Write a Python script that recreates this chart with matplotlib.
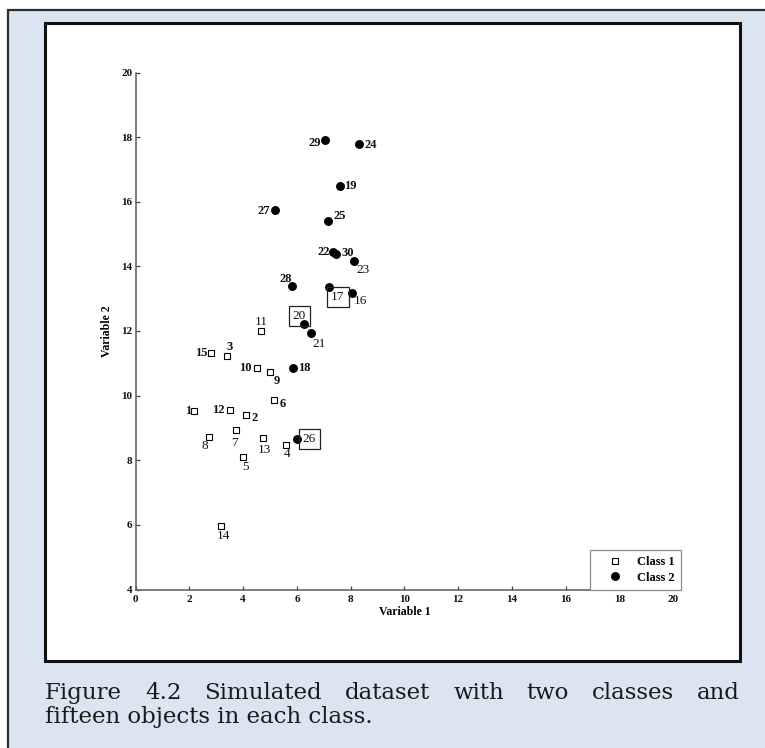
import matplotlib
matplotlib.use("Agg")
import matplotlib.pyplot as plt
from matplotlib.patches import Rectangle

# class 1 (open squares), objects 1-15
c1_id = [1, 2, 3, 4, 5, 6, 7, 8, 9, 10, 11, 12, 13, 14, 15]
c1_x = [2.17, 4.11, 3.39, 5.60, 4.00, 5.13, 3.72, 2.71, 4.99, 4.50, 4.67, 3.51, 4.73, 3.18, 2.81]
c1_y = [9.53, 9.41, 11.24, 8.47, 8.11, 9.85, 8.94, 8.73, 10.72, 10.84, 11.99, 9.54, 8.69, 5.96, 11.33]

# class 2 (filled circles), objects 16-30
c2_id = [16, 17, 18, 19, 20, 21, 22, 23, 24, 25, 26, 27, 28, 29, 30]
c2_x = [8.04, 7.19, 5.87, 7.62, 6.28, 6.51, 7.35, 8.12, 8.33, 7.16, 6.01, 5.19, 5.81, 7.06, 7.47]
c2_y = [13.17, 13.36, 10.84, 16.49, 12.23, 11.95, 14.46, 14.16, 17.78, 15.40, 8.66, 15.73, 13.40, 17.92, 14.38]

boxed = [17, 20, 26]

x_ticks = list(range(0, 21, 2))
y_ticks = list(range(4, 21, 2))

caption1 = "Figure 4.2 Simulated dataset with two classes and"
caption2 = "fifteen objects in each class."

# label offsets in pixels (dx, dy) from each marker
label_offsets = {
    1: (-6, 0), 2: (9, -3), 3: (3, 9), 4: (1, -9), 5: (2, -10),
    6: (9, -4), 7: (-1, -13), 8: (-4, -9), 9: (7, -9), 10: (-11, 0),
    11: (0, 9), 12: (-12, 0), 13: (2, -12), 14: (2, -10), 15: (-10, 0),
    16: (9, -8), 17: (9, -10), 18: (11, 0), 19: (10, 0), 20: (-5, 8),
    21: (9, -11), 22: (-9, 0), 23: (9, -9), 24: (11, -1), 25: (12, 5),
    26: (12, 0), 27: (-11, -1), 28: (-6, 7), 29: (-11, -3), 30: (11, 1),
}
light_labels = [4, 5, 7, 8, 11, 13, 14, 16, 21, 23]

W, H = 765, 748
fig = plt.figure(figsize=(W / 100, H / 100), dpi=100)
fig.patch.set_facecolor("white")

def px_rect(x0, y0, x1, y1, **kw):
    # rectangle given in pixel coordinates measured from the top-left corner
    return Rectangle((x0 / W, 1 - y1 / H), (x1 - x0) / W, (y1 - y0) / H,
                     transform=fig.transFigure, **kw)

fig.patches.append(px_rect(8, 10, 775, 760, facecolor="#dbe5f1",
                           edgecolor="#2b2b2b", linewidth=1.6, zorder=0))
fig.patches.append(px_rect(45, 23, 740, 661, facecolor="white",
                           edgecolor="#111111", linewidth=2.2, zorder=1))

ax = fig.add_axes([135.7 / W, 1 - 589.5 / H, (673 - 135.7) / W, (589.5 - 72.5) / H])
ax.set_facecolor("none")
ax.set_zorder(2)

serif = ["Liberation Serif", "DejaVu Serif"]

ax.plot(c1_x, c1_y, ls="none", marker="s", ms=4.6, mfc="white", mec="black",
        mew=0.8, label="Class 1")
ax.plot(c2_x, c2_y, ls="none", marker="o", ms=5.4, mfc="black", mec="black",
        label="Class 2")

for ids, xs, ys in [(c1_id, c1_x, c1_y), (c2_id, c2_x, c2_y)]:
    for k, x, y in zip(ids, xs, ys):
        dx, dy = label_offsets[k]
        kw = dict(textcoords="offset pixels", xytext=(dx, dy), ha="center",
                  va="center", family=serif, color="#111111")
        if k in boxed:
            kw.update(fontsize=9.5, fontweight="normal",
                      bbox=dict(boxstyle="square,pad=0.3", fc="none",
                                ec="#222222", lw=0.9))
        elif k in light_labels:
            kw.update(fontsize=9.5, fontweight="normal")
        else:
            kw.update(fontsize=9, fontweight="bold")
        ax.annotate(str(k), (x, y), **kw)

ax.set_xlim(0, 20)
ax.set_ylim(4, 20)
ax.set_xticks(x_ticks)
ax.set_yticks(y_ticks)
for s in ["top", "right"]:
    ax.spines[s].set_visible(False)
for s in ["left", "bottom"]:
    ax.spines[s].set_color("#5a5a5a")
    ax.spines[s].set_linewidth(1.1)
ax.tick_params(direction="in", length=3.2, width=0.9, color="#444444",
               labelsize=8, labelcolor="#111111")
ax.tick_params(axis="x", pad=4)
ax.tick_params(axis="y", pad=2.5)
for t in ax.get_xticklabels() + ax.get_yticklabels():
    t.set_family(serif)
    t.set_fontweight("bold")

ax.set_xlabel("Variable 1", family=serif, fontweight="bold", fontsize=8.5)
ax.set_ylabel("Variable 2", family=serif, fontweight="bold", fontsize=8.5)
ax.xaxis.set_label_coords(0.5, -0.031)
ax.yaxis.set_label_coords(-0.043, 0.5)

leg = ax.legend(loc="lower right", bbox_to_anchor=(681 / W, 1 - 590 / H),
                bbox_transform=fig.transFigure, borderaxespad=0,
                fancybox=False, framealpha=1, edgecolor="#888888",
                prop=dict(family=serif, weight="bold", size=9),
                handlelength=3.0, handletextpad=0.3, borderpad=0.5,
                labelspacing=0.3, numpoints=1)
leg.get_frame().set_linewidth(0.9)

# justified first caption line
cap_kw = dict(family=["DejaVu Serif"], fontsize=16.5, color="#1a1a1a",
              va="baseline", ha="left")
words = caption1.split()
texts = [fig.text(0, 1 - 699 / H, w, **cap_kw) for w in words]
fig.canvas.draw()
r = fig.canvas.get_renderer()
widths = [t.get_window_extent(r).width for t in texts]
left, right = 45, 740
gap = (right - left - sum(widths)) / (len(words) - 1)
xpos = left
for t, w in zip(texts, widths):
    t.set_x(xpos / W)
    xpos += w + gap
fig.text(left / W, 1 - 723 / H, caption2, **cap_kw)

fig.savefig("out.png", dpi=100)
